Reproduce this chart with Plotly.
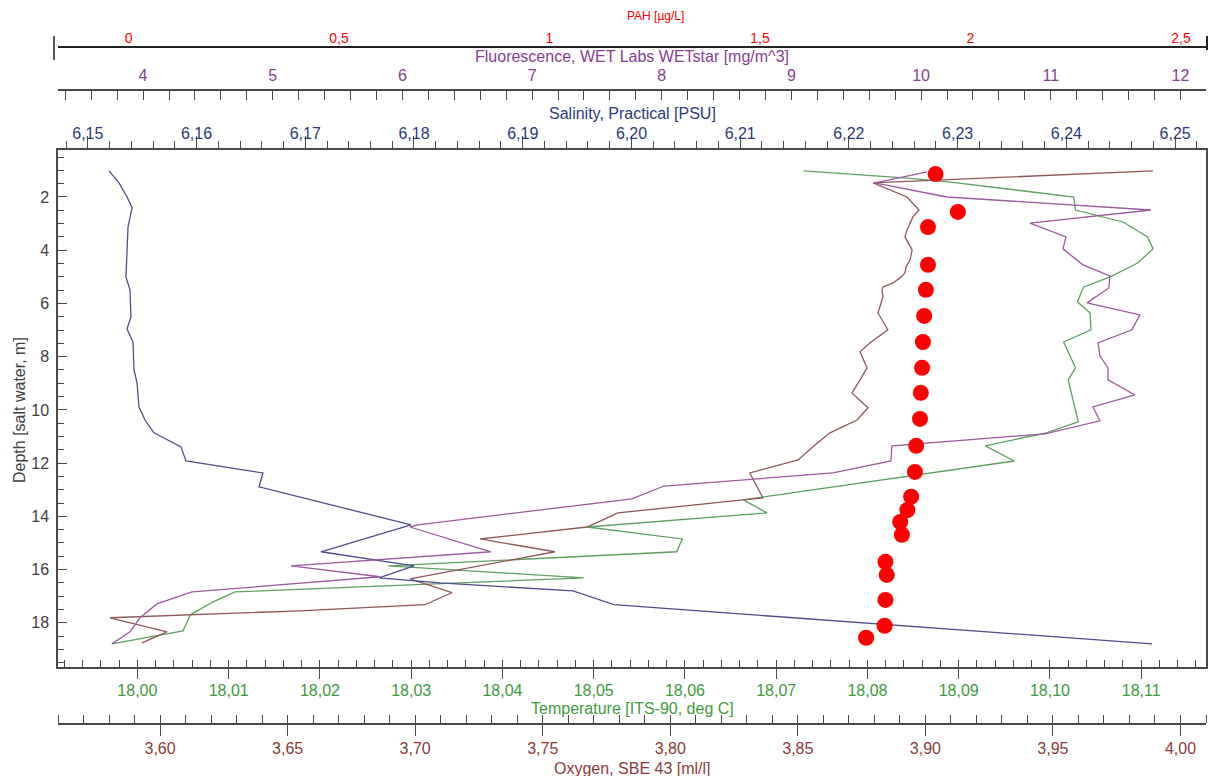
import plotly.graph_objects as go

# ---------------- data ----------------
depth_temp = [1.02, 1.29, 1.44, 2.00, 2.49, 2.94, 3.50, 3.95, 4.48, 5.00, 5.38, 5.94, 6.36, 6.99, 7.45,
              8.42, 8.87, 9.74, 10.45, 10.86, 11.35, 11.92, 13.38, 13.87, 14.40, 14.85, 15.33, 15.86,
              16.31, 16.84, 17.21, 17.70, 18.30, 18.79]
temperature = [18.0730, 18.0844, 18.0891, 18.1026, 18.1028, 18.1080, 18.1107, 18.1113, 18.1096, 18.1066,
               18.1037, 18.1030, 18.1044, 18.1045, 18.1015, 18.1028, 18.1020, 18.1026, 18.1031, 18.0996,
               18.0929, 18.0961, 18.0664, 18.0690, 18.0493, 18.0597, 18.0591, 18.0275, 18.0489, 18.0107,
               18.0083, 18.0058, 18.0050, 17.9972]

depth_oxy = [1.02, 1.47, 2.00, 2.49, 2.75, 3.24, 3.50, 3.99, 4.37, 4.63, 4.85, 5.04, 5.23, 5.38, 5.49,
             5.76, 6.36, 6.99, 7.26, 7.48, 7.82, 8.42, 8.87, 9.36, 9.92, 10.38, 10.86, 11.32, 11.88,
             12.37, 13.31, 13.38, 13.87, 14.40, 14.85, 15.33, 16.35, 16.87, 17.32, 17.55, 17.81, 18.34, 18.75]
oxygen = [3.9892, 3.8795, 3.8928, 3.8975, 3.8951, 3.8928, 3.8920, 3.8948, 3.8940, 3.8924, 3.8920, 3.8901,
          3.8873, 3.8834, 3.8830, 3.8834, 3.8814, 3.8853, 3.8814, 3.8783, 3.8744, 3.8771, 3.8744, 3.8712,
          3.8775, 3.8732, 3.8626, 3.8567, 3.8501, 3.8312, 3.8363, 3.8285, 3.7795, 3.7674, 3.7254, 3.7548,
          3.6980, 3.7144, 3.7038, 3.6548, 3.5804, 3.6027, 3.5929]

depth_sal = [1.02, 1.47, 2.00, 2.40, 3.13, 4.00, 5.00, 5.49, 6.51, 6.96, 7.45, 8.50, 8.99, 9.89, 10.38,
             10.86, 11.39, 11.92, 12.37, 12.89, 14.32, 15.33, 15.86, 16.31, 16.50, 16.80, 17.32, 18.79]
salinity = [6.15195, 6.15287, 6.15361, 6.15407, 6.15370, 6.15361, 6.15351, 6.15388, 6.15397, 6.15361,
            6.15416, 6.15425, 6.15453, 6.15471, 6.15526, 6.15609, 6.15857, 6.15903, 6.16611, 6.16575,
            6.17972, 6.17145, 6.18000, 6.17678, 6.18239, 6.19462, 6.19839, 6.24788]

depth_fl = [1.06, 1.47, 2.00, 2.49, 2.98, 3.50, 3.95, 4.55, 4.97, 5.42, 5.98, 6.43, 6.99, 7.48, 7.97,
            8.42, 8.87, 9.44, 9.89, 10.41, 10.90, 11.35, 11.92, 12.37, 12.86, 13.34, 14.32, 14.40,
            15.33, 15.86, 16.27, 16.84, 17.29, 17.81, 18.34, 18.79]
fluorescence = [10.045, 9.644, 10.199, 11.772, 10.839, 11.117, 11.094, 11.248, 11.456, 11.448, 11.279,
                11.687, 11.626, 11.364, 11.379, 11.441, 11.441, 11.649, 11.325, 11.379, 10.955, 9.775,
                9.767, 9.320, 8.017, 7.770, 6.120, 6.058, 6.683, 5.141, 5.827, 4.377, 4.107, 3.976,
                3.899, 3.760]

depth_pah = [1.14, 2.56, 3.13, 4.55, 5.49, 6.47, 7.45, 8.42, 9.36, 10.34, 11.35, 12.33, 13.26, 13.76,
             14.21, 14.69, 15.71, 16.20, 17.14, 18.11, 18.56]
pah = [1.917, 1.970, 1.899, 1.899, 1.894, 1.890, 1.887, 1.885, 1.882, 1.880, 1.871, 1.868, 1.859, 1.850,
       1.833, 1.837, 1.798, 1.801, 1.798, 1.796, 1.752]

# axis ranges
temp_range = [17.9913, 18.1171]
oxy_range = [3.5600, 4.0100]
sal_range = [6.14726, 6.25284]
fl_range = [3.344, 12.197]
pah_range = [-0.1675, 2.5594]
depth_range = [19.66, 0.235]

# ---------------- styling ----------------
W, H = 1210, 776
FONT = "Liberation Sans, Arial, sans-serif"
AXC = "#4a4a4a"
C_TEMP, C_TEMP_L = "#3f9a3f", "#5f9f5f"
C_OXY, C_OXY_L = "#8b3a3a", "#8e5858"
C_SAL, C_SAL_L = "#2d3a7e", "#4c4f8e"
C_FL, C_FL_L = "#853f8f", "#9a5c9d"
C_PAH = "#ff0000"
C_Y = "#404040"

x0p, x1p = 58 / W, 1206 / W
y0p, y1p = 1 - 667 / H, 1 - 150 / H


def py(pix):
    return 1 - pix / H


fig = go.Figure()
fig.add_trace(go.Scatter(x=salinity, y=depth_sal, xaxis="x3", yaxis="y", mode="lines",
                         line=dict(color=C_SAL_L, width=1.3)))
fig.add_trace(go.Scatter(x=oxygen, y=depth_oxy, xaxis="x2", yaxis="y", mode="lines",
                         line=dict(color=C_OXY_L, width=1.3)))
fig.add_trace(go.Scatter(x=temperature, y=depth_temp, xaxis="x", yaxis="y", mode="lines",
                         line=dict(color=C_TEMP_L, width=1.3)))
fig.add_trace(go.Scatter(x=fluorescence, y=depth_fl, xaxis="x4", yaxis="y", mode="lines",
                         line=dict(color=C_FL_L, width=1.3)))
fig.add_trace(go.Scatter(x=pah, y=depth_pah, xaxis="x5", yaxis="y", mode="markers",
                         marker=dict(color=C_PAH, size=16, line=dict(width=0))))

common = dict(showgrid=False, zeroline=False, linecolor=AXC, linewidth=1.5,
              tickcolor=AXC, tickwidth=1.3, fixedrange=True)


def ax(**kw):
    d = dict(common)
    d.update(kw)
    return d


fig.update_layout(
    width=W, height=H, template="none",
    margin=dict(l=0, r=0, t=0, b=0, autoexpand=False),
    paper_bgcolor="white", plot_bgcolor="white",
    separators=", ", showlegend=False,
    font=dict(family=FONT, size=16, color=C_Y),
    # temperature (bottom of plot)
    xaxis=ax(domain=[x0p, x1p], range=temp_range, anchor="y", side="bottom", showline=True,
             tick0=18, dtick=0.01, tickformat=".2f", ticks="outside", ticklen=10,
             minor=dict(dtick=0.002, ticks="inside", ticklen=7, tickcolor=AXC, tickwidth=1.3),
             tickfont=dict(color=C_TEMP, size=16, family=FONT), ticklabelstandoff=-2),
    xaxis6=ax(overlaying="x", range=temp_range, anchor="y", side="bottom", showline=False,
              tick0=18, dtick=0.01, ticks="inside", ticklen=7, showticklabels=False),
    # oxygen (free, lower)
    xaxis2=ax(overlaying="x", range=oxy_range, anchor="free", position=py(724), side="bottom",
              showline=True, tick0=3.6, dtick=0.05, tickformat=".2f", ticks="outside", ticklen=11,
              minor=dict(dtick=0.01, ticks="inside", ticklen=8, tickcolor=AXC, tickwidth=1.3),
              tickfont=dict(color=C_OXY, size=16, family=FONT), ticklabelstandoff=-1),
    xaxis7=ax(overlaying="x", range=oxy_range, anchor="free", position=py(724), side="bottom",
              showline=False, tick0=3.6, dtick=0.05, ticks="inside", ticklen=8, showticklabels=False),
    # salinity (top of plot)
    xaxis3=ax(overlaying="x", range=sal_range, anchor="y", side="top", showline=True,
              tick0=6.15, dtick=0.01, tickformat=".2f", ticks="outside", ticklen=12,
              minor=dict(dtick=0.002, ticks="outside", ticklen=7, tickcolor=AXC, tickwidth=1.3),
              tickfont=dict(color=C_SAL, size=16, family=FONT), ticklabelstandoff=-9),
    xaxis8=ax(overlaying="x", range=sal_range, anchor="y", side="top", showline=False,
              tick0=6.15, dtick=0.01, ticks="inside", ticklen=7, showticklabels=False,
              minor=dict(dtick=0.002, ticks="inside", ticklen=7, tickcolor=AXC, tickwidth=1.3)),
    # fluorescence (free, upper)
    xaxis4=ax(overlaying="x", range=fl_range, anchor="free", position=py(89.5), side="top",
              showline=True, tick0=4, dtick=1, ticks="inside", ticklen=10,
              minor=dict(dtick=0.2, ticks="inside", ticklen=10, tickcolor=AXC, tickwidth=1.3),
              tickfont=dict(color=C_FL, size=16, family=FONT), ticklabelstandoff=1),
    xaxis9=ax(overlaying="x", range=fl_range, anchor="free", position=py(89.5), side="top",
              showline=False, tick0=4, dtick=1, ticks="outside", ticklen=7, showticklabels=False),
    # PAH (free, top)
    xaxis5=ax(overlaying="x", range=pah_range, anchor="free", position=py(47), side="top",
              showline=True, linecolor="#222222", tick0=0, dtick=0.5, ticks="",
              tickfont=dict(color=C_PAH, size=14, family=FONT), ticklabelstandoff=-2),
    # depth
    yaxis=ax(domain=[y0p, y1p], range=depth_range, anchor="x", side="left", showline=True,
             mirror=True, tick0=0, dtick=2, ticks="inside", ticklen=9,
             minor=dict(dtick=0.5, ticks="inside", ticklen=6, tickcolor=AXC, tickwidth=1.3),
             tickfont=dict(color=C_Y, size=16, family=FONT), ticklabelstandoff=4),
)

xc = (x0p + x1p) / 2
ann = [
    dict(text="PAH [µg/L]", x=655 / W, y=py(16), font=dict(color=C_PAH, size=12, family=FONT)),
    dict(text="Fluorescence, WET Labs WETstar [mg/m^3]", x=xc, y=py(57), font=dict(color=C_FL, size=16, family=FONT)),
    dict(text="Salinity, Practical [PSU]", x=xc, y=py(113), font=dict(color=C_SAL, size=16, family=FONT)),
    dict(text="Temperature [ITS-90, deg C]", x=xc, y=py(708), font=dict(color=C_TEMP, size=16, family=FONT)),
    dict(text="Oxygen, SBE 43 [ml/l]", x=xc, y=py(768), font=dict(color=C_OXY, size=16, family=FONT)),
    dict(text="Depth [salt water, m]", x=19 / W, y=py(410), textangle=-90, font=dict(color=C_Y, size=16, family=FONT)),
]
for a in ann:
    a.update(xref="paper", yref="paper", showarrow=False, xanchor="center", yanchor="middle")

# small end caps of the PAH axis line
shapes = [
    dict(type="line", xref="paper", yref="paper", x0=54 / W, x1=54 / W, y0=py(60), y1=py(36),
         line=dict(color="#222222", width=1.5)),
    dict(type="line", xref="paper", yref="paper", x0=1207 / W, x1=1207 / W, y0=py(50), y1=py(36),
         line=dict(color="#222222", width=2)),
]
fig.update_layout(annotations=ann, shapes=shapes)

fig.write_html("out.html")
